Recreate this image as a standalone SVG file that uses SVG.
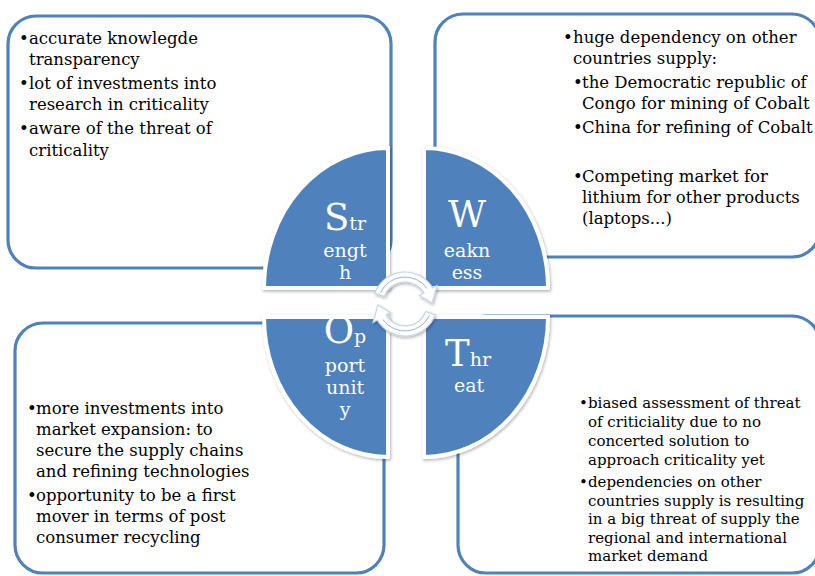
<svg xmlns="http://www.w3.org/2000/svg" width="815" height="576" viewBox="0 0 815 576">
<defs>
<style>
.box{fill:#fff;stroke:#4f81bd;stroke-width:3.2}
.piece{fill:#4f81bd;stroke:#fff;stroke-width:4;filter:url(#sh)}
.t{font-family:"DejaVu Serif","Liberation Serif",serif;font-size:16.5px;fill:#000}
.ts{font-family:"DejaVu Serif","Liberation Serif",serif;font-size:15px;fill:#000}
.lbl{font-family:"DejaVu Serif","Liberation Serif",serif;font-size:19px;fill:#fff;text-anchor:middle}
.big{font-size:37px}
.arr{fill:#fff;stroke:#c9d5e6;stroke-width:1.2;filter:url(#sh)}
.thin{fill:none;stroke:#95b3d7;stroke-width:1}
</style>
<filter id="sh" x="-20%" y="-20%" width="140%" height="140%">
<feDropShadow dx="1" dy="1.5" stdDeviation="1.5" flood-color="#000" flood-opacity="0.3"/>
</filter>
</defs>

<g id="box-strength">
<rect class="box" x="8" y="16" width="383" height="252" rx="28"/>
<text class="t" x="19" y="44">•</text><text class="t" x="29" y="44">accurate knowlegde</text>
<text class="t" x="29" y="65">transparency</text>
<text class="t" x="19" y="89">•</text><text class="t" x="29" y="89">lot of investments into</text>
<text class="t" x="29" y="110">research in criticality</text>
<text class="t" x="19" y="134">•</text><text class="t" x="29" y="134">aware of the threat of</text>
<text class="t" x="29" y="156">criticality</text>
</g>

<g id="box-weakness">
<rect class="box" x="435" y="14" width="385" height="243" rx="28"/>
<text class="t" x="563" y="43">•</text><text class="t" x="573" y="43">huge dependency on other</text>
<text class="t" x="573" y="64">countries supply:</text>
<text class="t" x="573" y="88">•</text><text class="t" x="582" y="88">the Democratic republic of</text>
<text class="t" x="582" y="109">Congo for mining of Cobalt</text>
<text class="t" x="573" y="133">•</text><text class="t" x="582" y="133">China for refining of Cobalt</text>
<text class="t" x="573" y="182">•</text><text class="t" x="582" y="182">Competing market for</text>
<text class="t" x="582" y="203">lithium for other products</text>
<text class="t" x="582" y="224">(laptops...)</text>
</g>

<g id="box-opportunity">
<rect class="box" x="15" y="323" width="369" height="250" rx="28"/>
<text class="t" x="27" y="414">•</text><text class="t" x="36" y="414">more investments into</text>
<text class="t" x="36" y="435">market expansion: to</text>
<text class="t" x="36" y="456">secure the supply chains</text>
<text class="t" x="36" y="477">and refining technologies</text>
<text class="t" x="27" y="501">•</text><text class="t" x="36" y="501">opportunity to be a first</text>
<text class="t" x="36" y="522">mover in terms of post</text>
<text class="t" x="36" y="543">consumer recycling</text>
</g>

<g id="box-threat">
<rect class="box" x="458" y="316" width="362" height="257" rx="28"/>
<text class="ts" x="579" y="408">•</text><text class="ts" x="588" y="408">biased assessment of threat</text>
<text class="ts" x="588" y="427">of criticiality due to no</text>
<text class="ts" x="588" y="446">concerted solution to</text>
<text class="ts" x="588" y="465">approach criticality yet</text>
<text class="ts" x="579" y="487">•</text><text class="ts" x="588" y="487">dependencies on other</text>
<text class="ts" x="588" y="506">countries supply is resulting</text>
<text class="ts" x="588" y="524">in a big threat of supply the</text>
<text class="ts" x="588" y="543">regional and international</text>
<text class="ts" x="588" y="561">market demand</text>
</g>

<g id="piece-strength">
<path class="piece" d="M388,288 L264,288 A124,140 0 0 1 388,148 Z"/>
<text class="lbl" x="345" y="230"><tspan class="big">S</tspan>tr</text>
<text class="lbl" x="345" y="257">engt</text>
<text class="lbl" x="345" y="279">h</text>
</g>

<g id="piece-weakness">
<path class="piece" d="M424,288 L424,148 A124,140 0 0 1 548,288 Z"/>
<text class="lbl big" x="467" y="227">W</text>
<text class="lbl" x="467" y="257">eakn</text>
<text class="lbl" x="467" y="279">ess</text>
</g>

<g id="piece-opportunity">
<path class="piece" d="M388,317 L388,457 A124,140 0 0 1 264,317 Z"/>
<text class="lbl" x="345" y="343"><tspan class="big">O</tspan>p</text>
<text class="lbl" x="345" y="372">port</text>
<text class="lbl" x="345" y="394">unit</text>
<text class="lbl" x="345" y="416">y</text>
</g>

<g id="piece-threat">
<path class="piece" d="M424,317 L548,317 A124,140 0 0 1 424,457 Z"/>
<text class="lbl" x="468" y="366"><tspan class="big">T</tspan>hr</text>
<text class="lbl" x="469" y="392">eat</text>
</g>

<g id="connectors">
<path class="arr" d="M374.9,293.1 A32,32 0 0 1 432.7,288 L437,285.5 L432,303.1 L419.7,295.5 L424.1,293 A22,22 0 0 0 384.3,296.5 Z"/>
<path class="arr" d="M435.1,314.9 A32,32 0 0 1 377.3,320 L373,322.5 L378,304.9 L390.3,312.5 L386,315 A22,22 0 0 0 425.7,311.5 Z"/>
<path class="thin" d="M380.5,292.6 A27,27 0 0 1 427.1,288.5"/>
<path class="thin" d="M429.5,315.4 A27,27 0 0 1 382.9,319.5"/>
</g>
</svg>
